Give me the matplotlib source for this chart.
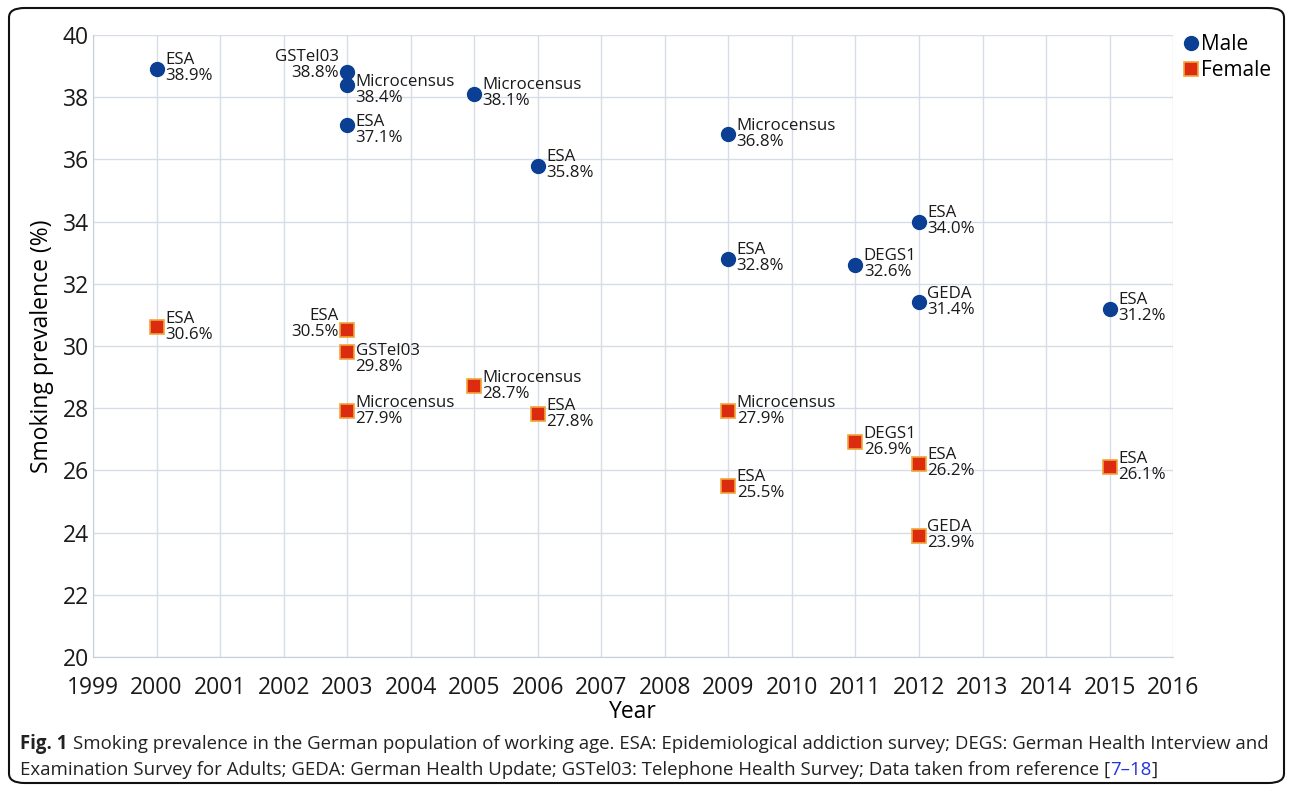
import matplotlib.pyplot as plt
from matplotlib.patches import FancyBboxPatch

plt.rcParams['font.family'] = ['Open Sans', 'DejaVu Sans']

# --- data ---
male_year = [2000, 2003, 2003, 2003, 2005, 2006, 2009, 2009, 2011, 2012, 2012, 2015]
male_val = [38.9, 38.8, 38.4, 37.1, 38.1, 35.8, 36.8, 32.8, 32.6, 34.0, 31.4, 31.2]
male_src = ["ESA", "GSTel03", "Microcensus", "ESA", "Microcensus", "ESA",
            "Microcensus", "ESA", "DEGS1", "ESA", "GEDA", "ESA"]

female_year = [2000, 2003, 2003, 2003, 2005, 2006, 2009, 2009, 2011, 2012, 2012, 2015]
female_val = [30.6, 30.5, 29.8, 27.9, 28.7, 27.8, 27.9, 25.5, 26.9, 26.2, 23.9, 26.1]
female_src = ["ESA", "ESA", "GSTel03", "Microcensus", "Microcensus", "ESA",
              "Microcensus", "ESA", "DEGS1", "ESA", "GEDA", "ESA"]

years = list(range(1999, 2017))

# label placement tweaks (index -> (dx, dy) in points); negative dx = left side
male_offsets = {1: (-6, 5), 2: (6, -3.5), 3: (6, -3.5)}
female_offsets = {1: (-6, 4.5), 2: (6, -5)}

male_color = '#0b3f93'
female_color = '#dc2c10'
female_edge = '#f2a43a'

fig = plt.figure(figsize=(12.92, 7.91), dpi=100)
ax = fig.add_axes([0.072, 0.1694, 0.836, 0.7864])

ax.plot(male_year, male_val, 'o', ms=10, color=male_color, label='Male', zorder=3)
ax.plot(female_year, female_val, 's', ms=9.5, color=female_color, mec=female_edge,
        mew=1.2, label='Female', zorder=3)


def add_labels(xs, ys, names, offsets):
    for i, (x, y, n) in enumerate(zip(xs, ys, names)):
        dx, dy = offsets.get(i, (6, 0.5))
        ax.annotate(f"{n}\n{y:.1f}%", (x, y), xytext=(dx, dy), textcoords='offset points',
                    ha='left' if dx > 0 else 'right', va='center', fontsize=12.2,
                    linespacing=1.0, multialignment='left' if dx > 0 else 'right',
                    color='#1a1a1a', zorder=4)


add_labels(male_year, male_val, male_src, male_offsets)
add_labels(female_year, female_val, female_src, female_offsets)

ax.set_xlim(1999, 2016)
ax.set_ylim(20, 40)
ax.set_xticks(years)
ax.set_yticks(range(20, 41, 2))
ax.tick_params(length=0, labelsize=16.5, colors='#1a1a1a')
ax.tick_params(axis='y', pad=3)
ax.tick_params(axis='x', pad=14)
ax.grid(True, color='#d6dde6', lw=1)
ax.set_axisbelow(True)
for s in ['top', 'right']:
    ax.spines[s].set_visible(False)
for s in ['left', 'bottom']:
    ax.spines[s].set_color('#c8ced6')
ax.set_xlabel('Year', fontsize=16.5, labelpad=0)
ax.set_ylabel('Smoking prevalence (%)', fontsize=16.5, labelpad=6)

ax.legend(loc='upper left', bbox_to_anchor=(0.993, 1.025), frameon=False, fontsize=15,
          handletextpad=0.0, borderaxespad=0.3, handlelength=1.0, labelspacing=0.25)

# outer rounded frame
frame = FancyBboxPatch((9 / 1292, 8 / 791), 1275 / 1292, 775 / 791,
                       boxstyle='round,pad=0,rounding_size=0.012',
                       transform=fig.transFigure, fill=False, ec='#111111', lw=1.5)
fig.patches.append(frame)

# caption with mixed styles
fig.canvas.draw()
renderer = fig.canvas.get_renderer()
cap_size = 13.45
cap_color = '#222222'


def put(x_px, y_px, s, **kw):
    t = fig.text(x_px / 1292, 1 - y_px / 791, s, fontsize=cap_size, va='center',
                 ha='left', color=kw.pop('color', cap_color), **kw)
    bb = t.get_window_extent(renderer)
    return x_px + bb.width


x = put(20, 744, 'Fig. 1', fontweight='bold')
put(x + 6, 744, 'Smoking prevalence in the German population of working age. ESA: '
    'Epidemiological addiction survey; DEGS: German Health Interview and')
x = put(20, 770, 'Examination Survey for Adults; GEDA: German Health Update; GSTel03: '
        'Telephone Health Survey; Data taken from reference [')
x = put(x, 770, '7\u201318', color='#2233dd')
put(x, 770, ']')

fig.savefig('out.png', dpi=100)
